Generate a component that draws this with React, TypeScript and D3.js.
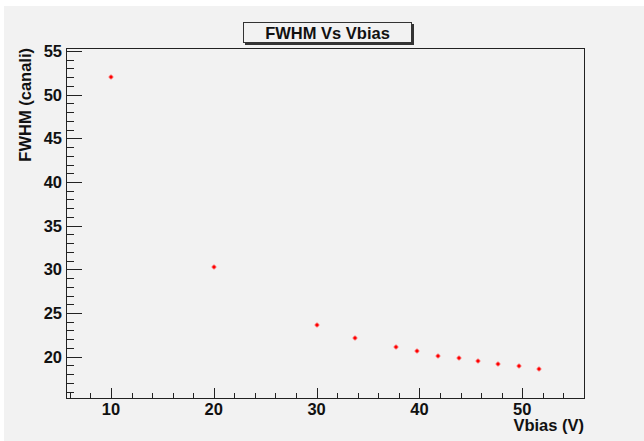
import React from "react";
import * as d3 from "d3";

const vbias = [10, 20, 30, 33.7, 37.7, 39.8, 41.8, 43.8, 45.7, 47.65, 49.65, 51.65];
const fwhm = [52.0, 30.22, 23.6, 22.18, 21.08, 20.65, 20.11, 19.82, 19.47, 19.16, 18.97, 18.59];
const xMajorTicks = [10, 20, 30, 40, 50];
const yMajorTicks = [20, 25, 30, 35, 40, 45, 50, 55];
const titleText = "FWHM Vs Vbias";
const xLabel = "Vbias (V)";
const yLabel = "FWHM (canali)";

const W = 644;
const H = 441;
const frame = { left: 66, top: 48, right: 584, bottom: 398 };
const font = "'Liberation Sans', Arial, Helvetica, sans-serif";

export default function App() {
  const x = d3.scaleLinear().domain([5.63, 56.0]).range([frame.left, frame.right]);
  const y = d3.scaleLinear().domain([15.27, 55.34]).range([frame.bottom, frame.top]);

  const xMinor = d3.range(6, 56, 2).filter((v) => !xMajorTicks.includes(v));
  const yMinor = d3.range(16, 56, 1).filter((v) => !yMajorTicks.includes(v));

  return (
    <svg
      width={W}
      height={H}
      style={{ position: "absolute", left: 0, top: 0, background: "#ffffff" }}
    >
      <rect x={4} y={6} width={W - 4} height={H - 6} fill="#f2f2f2" />
      {/* frame */}
      <rect
        x={frame.left + 0.5}
        y={frame.top + 0.5}
        width={frame.right - frame.left}
        height={frame.bottom - frame.top}
        fill="none"
        stroke="#222"
        strokeWidth={1}
      />
      {/* y ticks */}
      {yMajorTicks.map((v) => (
        <g key={"ym" + v}>
          <line
            x1={frame.left}
            x2={frame.left + 16}
            y1={Math.round(y(v)) + 0.5}
            y2={Math.round(y(v)) + 0.5}
            stroke="#222"
          />
          <text
            x={frame.left - 4}
            y={y(v) + 6}
            textAnchor="end"
            fontFamily={font}
            fontWeight="bold"
            fontSize={16.5}
            fill="#111"
          >
            {v}
          </text>
        </g>
      ))}
      {yMinor.map((v) => (
        <line
          key={"yn" + v}
          x1={frame.left}
          x2={frame.left + 8}
          y1={Math.round(y(v)) + 0.5}
          y2={Math.round(y(v)) + 0.5}
          stroke="#222"
        />
      ))}
      {/* x ticks */}
      {xMajorTicks.map((v) => (
        <g key={"xm" + v}>
          <line
            x1={Math.round(x(v)) + 0.5}
            x2={Math.round(x(v)) + 0.5}
            y1={frame.bottom}
            y2={frame.bottom - 10}
            stroke="#222"
          />
          <text
            x={x(v)}
            y={415}
            textAnchor="middle"
            fontFamily={font}
            fontWeight="bold"
            fontSize={16.5}
            fill="#111"
          >
            {v}
          </text>
        </g>
      ))}
      {xMinor.map((v) => (
        <line
          key={"xn" + v}
          x1={Math.round(x(v)) + 0.5}
          x2={Math.round(x(v)) + 0.5}
          y1={frame.bottom}
          y2={frame.bottom - 5}
          stroke="#222"
        />
      ))}
      {/* axis titles */}
      <text
        x={frame.right}
        y={431}
        textAnchor="end"
        fontFamily={font}
        fontWeight="bold"
        fontSize={16.5}
        fill="#111"
      >
        {xLabel}
      </text>
      <text
        transform={`translate(31, ${frame.top}) rotate(-90)`}
        textAnchor="end"
        fontFamily={font}
        fontWeight="bold"
        fontSize={16.5}
        fill="#111"
      >
        {yLabel}
      </text>
      {/* points */}
      {vbias.map((v, i) => {
        const cx = Math.round(x(v));
        const cy = Math.round(y(fwhm[i]));
        return (
          <g key={"p" + i}>
            <line x1={cx - 2.5} x2={cx + 2.5} y1={cy} y2={cy} stroke="#ff5050" strokeWidth={1} />
            <line x1={cx} x2={cx} y1={cy - 2.5} y2={cy + 2.5} stroke="#ff5050" strokeWidth={1} />
            <rect x={cx - 1.5} y={cy - 1.5} width={3} height={3} fill="#ff0000" />
          </g>
        );
      })}
      {/* title box */}
      <rect x={245} y={24} width={169} height={21} fill="#333" />
      <rect x={243.5} y={22.5} width={168} height={20} fill="#f2f2f2" stroke="#333" strokeWidth={1} />
      <text
        x={327.5}
        y={39}
        textAnchor="middle"
        fontFamily={font}
        fontWeight="bold"
        fontSize={16.5}
        fill="#111"
      >
        {titleText}
      </text>
    </svg>
  );
}
